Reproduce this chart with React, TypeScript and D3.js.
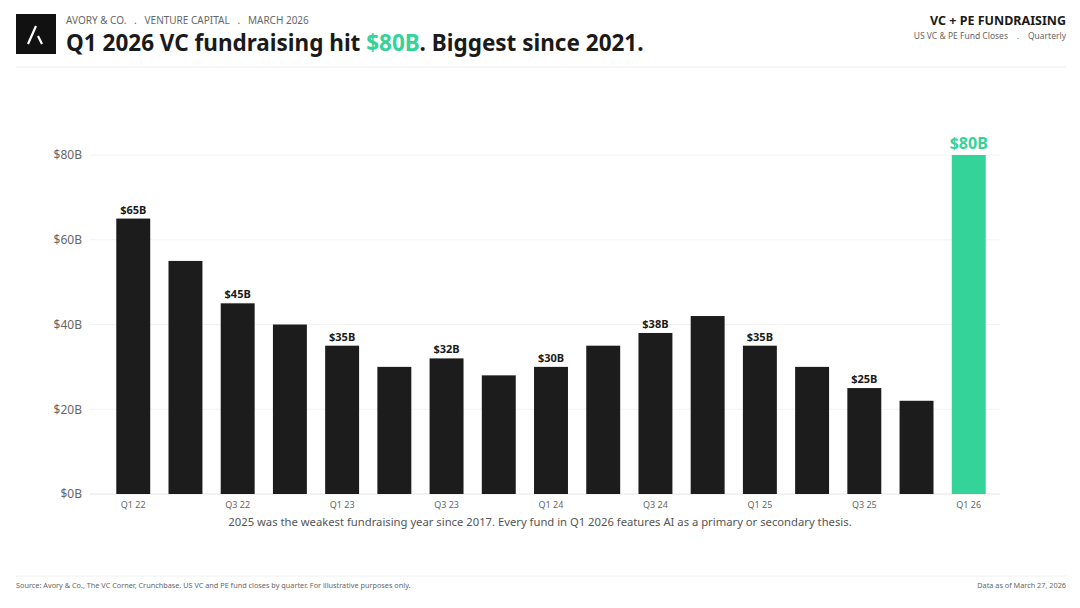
import { useRef, useEffect } from 'react';
import * as d3 from 'd3';

const quarters = [
  'Q1 22', 'Q2 22', 'Q3 22', 'Q4 22',
  'Q1 23', 'Q2 23', 'Q3 23', 'Q4 23',
  'Q1 24', 'Q2 24', 'Q3 24', 'Q4 24',
  'Q1 25', 'Q2 25', 'Q3 25', 'Q4 25',
  'Q1 26',
];
const fundraising = [65, 55, 45, 40, 35, 30, 32, 28, 30, 35, 38, 42, 35, 30, 25, 22, 80];
const yTicks = [0, 20, 40, 60, 80];
const labeledQuarters = ['Q1 22', 'Q3 22', 'Q1 23', 'Q3 23', 'Q1 24', 'Q3 24', 'Q1 25', 'Q3 25', 'Q1 26'];

const W = 1080;
const H = 608;
const GREEN = '#34d399';
const DARK = '#1c1c1c';
const FONT = '"Noto Sans", "Open Sans", sans-serif';

export default function App() {
  const svgRef = useRef<SVGSVGElement | null>(null);

  useEffect(() => {
    if (!svgRef.current) return;
    const svg = d3.select(svgRef.current);
    svg.selectAll('*').remove();
    svg.style('font-family', FONT);

    // header
    const logo = svg.append('g').attr('transform', 'translate(16,14)');
    logo.append('rect').attr('width', 40).attr('height', 40).attr('fill', '#111');
    logo.append('path')
      .attr('d', 'M12,30 L20,12 M22,22 L26,30')
      .attr('stroke', '#fff').attr('stroke-width', 2.2).attr('fill', 'none');

    svg.append('text').attr('x', 66).attr('y', 24)
      .attr('font-size', 10).attr('fill', '#666')
      .style('white-space', 'pre')
      .text('AVORY & CO.   .   VENTURE CAPITAL   .   MARCH 2026');

    const title = svg.append('text').attr('x', 66).attr('y', 51)
      .attr('font-size', 22.5).attr('font-weight', 700).attr('fill', '#1a1a1a');
    title.append('tspan').text('Q1 2026 VC fundraising hit ');
    title.append('tspan').attr('fill', GREEN).text('$80B');
    title.append('tspan').text('. Biggest since 2021.');

    svg.append('text').attr('x', 1066).attr('y', 25).attr('text-anchor', 'end')
      .attr('font-size', 12.5).attr('font-weight', 700).attr('fill', '#1a1a1a')
      .text('VC + PE FUNDRAISING');
    svg.append('text').attr('x', 1066).attr('y', 39).attr('text-anchor', 'end')
      .attr('font-size', 8.5).attr('fill', '#666')
      .style('white-space', 'pre')
      .text('US VC & PE Fund Closes    .    Quarterly');

    svg.append('line').attr('x1', 16).attr('x2', 1066).attr('y1', 67).attr('y2', 67)
      .attr('stroke', '#ececec').attr('stroke-width', 1);

    // chart
    const x = d3.scaleBand<string>()
      .domain(quarters)
      .range([98, 1004])
      .paddingInner(0.35)
      .paddingOuter(0.35);
    const y = d3.scaleLinear().domain([0, 80]).range([494, 155]);

    const grid = svg.append('g');
    grid.selectAll('line').data(yTicks).join('line')
      .attr('x1', 90).attr('x2', 1000)
      .attr('y1', d => y(d)).attr('y2', d => y(d))
      .attr('stroke', d => (d === 0 ? '#e4e4e4' : '#f2f2f2')).attr('stroke-width', 1);

    const yAxis = d3.axisLeft(y).tickValues(yTicks).tickSize(0).tickPadding(0)
      .tickFormat(d => `$${d}B`);
    const ya = svg.append('g').attr('transform', 'translate(82,0)').call(yAxis);
    ya.select('.domain').remove();
    ya.selectAll('text').attr('font-size', 12).attr('fill', '#666').attr('font-family', FONT);

    const xAxis = d3.axisBottom(x).tickSize(0).tickPadding(4)
      .tickFormat(d => (labeledQuarters.includes(d) ? d : ''));
    const xa = svg.append('g').attr('transform', 'translate(0,498)').call(xAxis);
    xa.select('.domain').remove();
    xa.selectAll('text').attr('font-size', 9).attr('fill', '#666').attr('font-family', FONT);

    const data = quarters.map((q, i) => ({ q, v: fundraising[i] }));
    const last = quarters[quarters.length - 1];

    svg.append('g').selectAll('rect').data(data).join('rect')
      .attr('x', d => x(d.q)!)
      .attr('y', d => y(d.v))
      .attr('width', x.bandwidth())
      .attr('height', d => y(0) - y(d.v))
      .attr('fill', d => (d.q === last ? GREEN : DARK));

    svg.append('g').selectAll('text').data(data.filter(d => labeledQuarters.includes(d.q))).join('text')
      .attr('x', d => x(d.q)! + x.bandwidth() / 2)
      .attr('y', d => y(d.v) - (d.q === last ? 6 : 5))
      .attr('text-anchor', 'middle')
      .attr('font-size', d => (d.q === last ? 16 : 11))
      .attr('font-weight', 700)
      .attr('fill', d => (d.q === last ? GREEN : '#1a1a1a'))
      .text(d => `$${d.v}B`);

    svg.append('text').attr('x', 540).attr('y', 526).attr('text-anchor', 'middle')
      .attr('font-size', 11.25).attr('fill', '#555')
      .text('2025 was the weakest fundraising year since 2017. Every fund in Q1 2026 features AI as a primary or secondary thesis.');

    // footer
    svg.append('line').attr('x1', 16).attr('x2', 1066).attr('y1', 576).attr('y2', 576)
      .attr('stroke', '#f0f0f0').attr('stroke-width', 1);
    svg.append('text').attr('x', 16).attr('y', 588)
      .attr('font-size', 7.3).attr('fill', '#666')
      .text('Source: Avory & Co., The VC Corner, Crunchbase. US VC and PE fund closes by quarter. For illustrative purposes only.');
    svg.append('text').attr('x', 1066).attr('y', 588).attr('text-anchor', 'end')
      .attr('font-size', 7.3).attr('fill', '#666')
      .text('Data as of March 27, 2026');
  }, []);

  return (
    <div style={{ position: 'absolute', left: 0, top: 0, width: W, height: H, background: '#fff' }}>
      <svg ref={svgRef} width={W} height={H} viewBox={`0 0 ${W} ${H}`} />
    </div>
  );
}
